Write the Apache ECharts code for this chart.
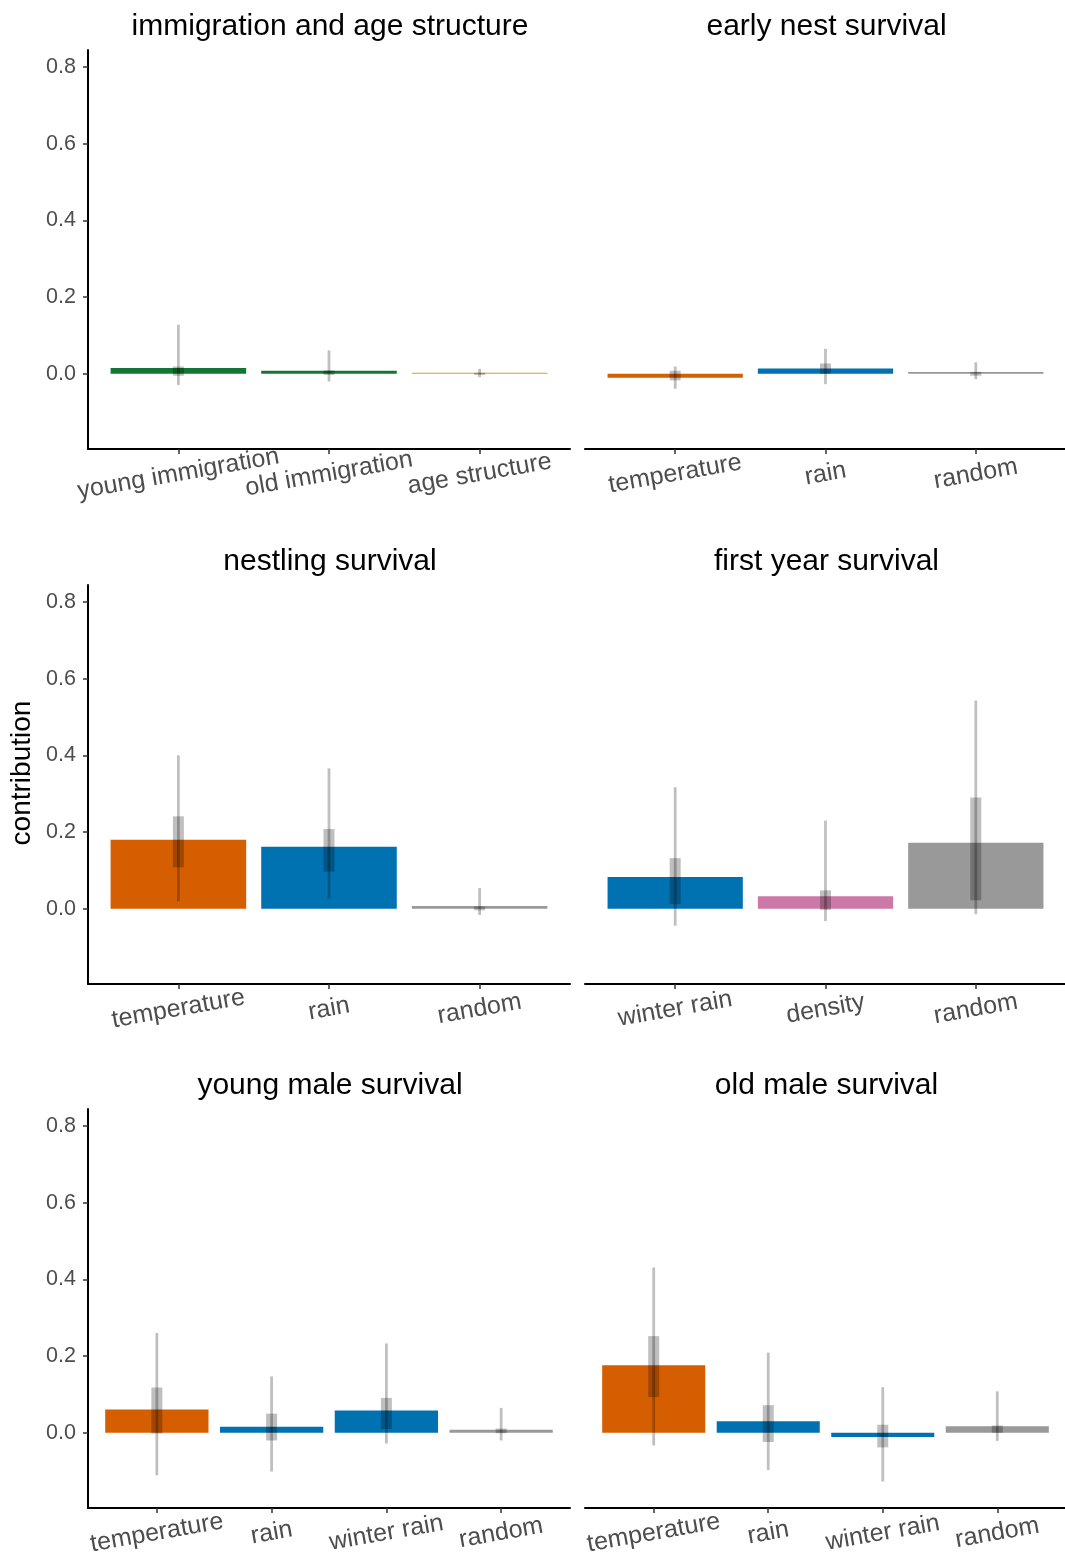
<!DOCTYPE html>
<html>
<head>
<meta charset="utf-8">
<script src="https://cdn.jsdelivr.net/npm/echarts@6/dist/echarts.min.js"></script>
<style>
  html, body { margin: 0; padding: 0; background: #fff; }
  #main { width: 1065px; height: 1556px; }
</style>
</head>
<body>
<div id="main"></div>
<script>
// panel titles
const panelTitles = ['immigration and age structure', 'early nest survival', 'nestling survival',
    'first year survival', 'young male survival', 'old male survival'];

// categories per panel
const immCats = ['young immigration', 'old immigration', 'age structure'];
const nestCats = ['temperature', 'rain', 'random'];
const nestlingCats = ['temperature', 'rain', 'random'];
const firstYearCats = ['winter rain', 'density', 'random'];
const youngMaleCats = ['temperature', 'rain', 'winter rain', 'random'];
const oldMaleCats = ['temperature', 'rain', 'winter rain', 'random'];

// mean contribution (bar height)
const immVals = [0.015, 0.008, 0.0025];
const nestVals = [-0.010, 0.014, 0.005];
const nestlingVals = [0.180, 0.162, 0.007];
const firstYearVals = [0.083, 0.033, 0.172];
const youngMaleVals = [0.061, 0.016, 0.058, 0.008];
const oldMaleVals = [0.176, 0.030, -0.011, 0.017];

// 95% interval (thin line)
const immLo95 = [-0.029, -0.020, -0.009];
const immHi95 = [0.128, 0.061, 0.013];
const nestLo95 = [-0.039, -0.027, -0.014];
const nestHi95 = [0.019, 0.065, 0.030];
const nestlingLo95 = [0.020, 0.027, -0.016];
const nestlingHi95 = [0.400, 0.366, 0.054];
const firstYearLo95 = [-0.044, -0.032, -0.014];
const firstYearHi95 = [0.317, 0.230, 0.543];
const youngMaleLo95 = [-0.111, -0.101, -0.028, -0.020];
const youngMaleHi95 = [0.260, 0.147, 0.233, 0.065];
const oldMaleLo95 = [-0.033, -0.097, -0.127, -0.021];
const oldMaleHi95 = [0.431, 0.209, 0.119, 0.108];

// 50% interval (thick box)
const immLo50 = [-0.005, -0.003, -0.003];
const immHi50 = [0.019, 0.009, 0.003];
const nestLo50 = [-0.017, 0.000, -0.005];
const nestHi50 = [0.008, 0.027, 0.005];
const nestlingLo50 = [0.108, 0.097, -0.004];
const nestlingHi50 = [0.241, 0.208, 0.006];
const firstYearLo50 = [0.012, -0.003, 0.022];
const firstYearHi50 = [0.132, 0.048, 0.290];
const youngMaleLo50 = [-0.002, -0.020, 0.010, -0.001];
const youngMaleHi50 = [0.118, 0.050, 0.091, 0.011];
const oldMaleLo50 = [0.093, -0.024, -0.038, 0.000];
const oldMaleHi50 = [0.252, 0.072, 0.021, 0.019];

const yTicks = [0, 0.2, 0.4, 0.6, 0.8];

// colours by driver
const colorOf = {
    'young immigration': '#117733', 'old immigration': '#117733', 'age structure': '#E69F00',
    'temperature': '#D55E00', 'rain': '#0072B2', 'winter rain': '#0072B2',
    'density': '#CC79A7', 'random': '#999999'
};

const panels = [
    [immCats, immVals, immLo95, immHi95, immLo50, immHi50],
    [nestCats, nestVals, nestLo95, nestHi95, nestLo50, nestHi50],
    [nestlingCats, nestlingVals, nestlingLo95, nestlingHi95, nestlingLo50, nestlingHi50],
    [firstYearCats, firstYearVals, firstYearLo95, firstYearHi95, firstYearLo50, firstYearHi50],
    [youngMaleCats, youngMaleVals, youngMaleLo95, youngMaleHi95, youngMaleLo50, youngMaleHi50],
    [oldMaleCats, oldMaleVals, oldMaleLo95, oldMaleHi95, oldMaleLo50, oldMaleHi50]
];

const rowTops = [50, 585, 1109];
const colLefts = [88, 585];
const colWidths = [482, 481];
const gridHeight = 399;
const yMin = -0.196, yMax = 0.844;
const FONT = 'Liberation Sans, Arial, sans-serif';

const chart = echarts.init(document.getElementById('main'));

const grids = [], xAxes = [], yAxes = [], series = [], graphics = [];

panels.forEach(function (p, i) {
    const cats = p[0];
    const row = Math.floor(i / 2), col = i % 2;
    grids.push({
        left: colLefts[col], top: rowTops[row], width: colWidths[col], height: gridHeight,
        outerBoundsMode: 'none', containLabel: false
    });
    xAxes.push({
        type: 'value', gridIndex: i, min: 0.4, max: cats.length + 0.6,
        splitLine: {show: false},
        axisLine: {show: true, onZero: false, lineStyle: {color: '#000', width: 2}},
        axisTick: {show: true, length: 5, customValues: cats.map((c, k) => k + 1),
            lineStyle: {color: '#333', width: 1.5}},
        axisLabel: {
            customValues: cats.map((c, k) => k + 1),
            formatter: v => cats[Math.round(v) - 1] || '',
            rotate: 10, align: 'center', verticalAlign: 'middle', margin: 25,
            fontSize: 25, color: '#4D4D4D', fontFamily: FONT
        }
    });
    yAxes.push({
        type: 'value', gridIndex: i, min: yMin, max: yMax,
        splitLine: {show: false},
        axisLine: {show: col === 0, onZero: false, lineStyle: {color: '#000', width: 2}},
        axisTick: {show: col === 0, length: 5, customValues: yTicks, lineStyle: {color: '#333', width: 1.5}},
        axisLabel: {
            show: col === 0, customValues: yTicks, formatter: v => v.toFixed(1),
            margin: 12, fontSize: 21.5, color: '#4D4D4D', fontFamily: FONT
        }
    });
    const data = cats.map((c, k) => [k + 1, p[1][k], p[2][k], p[3][k], p[4][k], p[5][k]]);
    series.push({
        type: 'custom', xAxisIndex: i, yAxisIndex: i, data: data, silent: true,
        renderItem: function (params, api) {
            const x = api.value(0);
            const cat = cats[x - 1];
            const a = api.coord([x - 0.45, 0]);
            const b = api.coord([x + 0.45, api.value(1)]);
            const t1 = api.coord([x, api.value(2)]);
            const t2 = api.coord([x, api.value(3)]);
            const k1 = api.coord([x, api.value(4)]);
            const k2 = api.coord([x, api.value(5)]);
            return {
                type: 'group',
                children: [
                    {type: 'rect', shape: {x: a[0], y: Math.min(a[1], b[1]), width: b[0] - a[0],
                        height: Math.abs(a[1] - b[1])}, style: {fill: colorOf[cat]}},
                    {type: 'rect', shape: {x: t1[0] - 1.4, y: Math.min(t1[1], t2[1]), width: 2.8,
                        height: Math.abs(t1[1] - t2[1])}, style: {fill: 'rgba(0,0,0,0.25)'}},
                    {type: 'rect', shape: {x: k1[0] - 5.5, y: Math.min(k1[1], k2[1]), width: 11,
                        height: Math.abs(k1[1] - k2[1])}, style: {fill: 'rgba(0,0,0,0.25)'}}
                ]
            };
        }
    });
    graphics.push({
        type: 'text', x: colLefts[col] + colWidths[col] / 2 + 1, y: rowTops[row] - 23,
        style: {text: panelTitles[i], fontSize: 30, fill: '#000', fontFamily: FONT,
            textAlign: 'center', textVerticalAlign: 'middle'}
    });
});

graphics.push({
    type: 'text', x: 22, y: 773, rotation: Math.PI / 2,
    style: {text: 'contribution', fontSize: 28, fill: '#000', fontFamily: FONT,
        textAlign: 'center', textVerticalAlign: 'middle'}
});

chart.setOption({
    animation: false,
    backgroundColor: '#fff',
    textStyle: {fontFamily: FONT},
    grid: grids,
    xAxis: xAxes,
    yAxis: yAxes,
    series: series,
    graphic: graphics
});
</script>
</body>
</html>
